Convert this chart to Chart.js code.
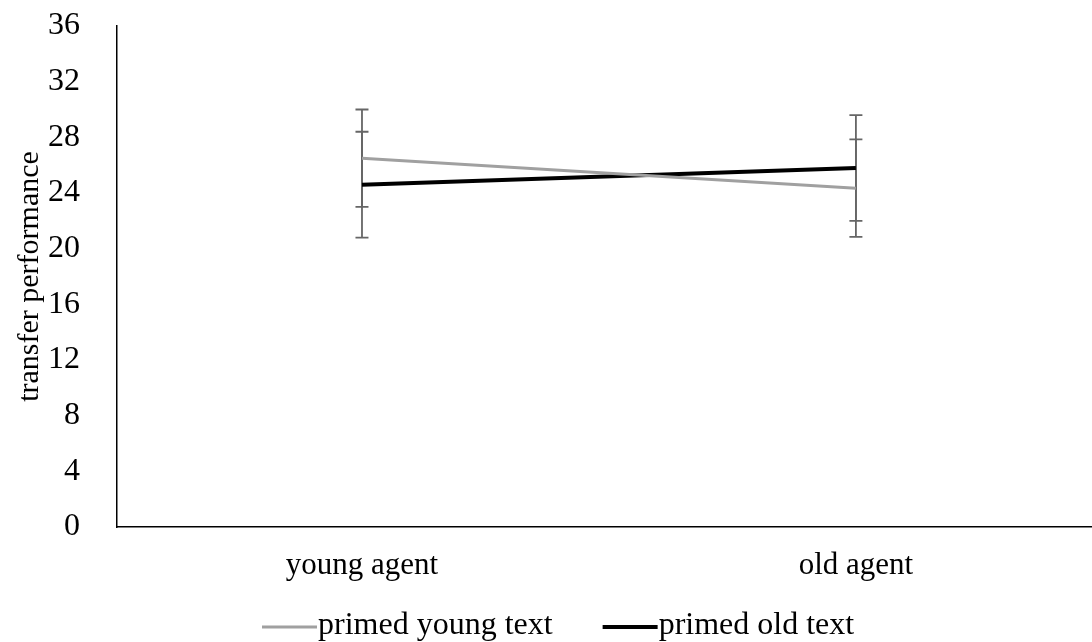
<!DOCTYPE html>
<html>
<head>
<meta charset="utf-8">
<script src="https://cdn.jsdelivr.net/npm/chart.js@4/dist/chart.umd.min.js"></script>
<style>
html,body{margin:0;padding:0;background:#fff;}
#wrap{width:1092px;height:642px;position:relative;overflow:hidden;}
</style>
</head>
<body>
<div id="wrap"><canvas id="c" width="1092" height="642"></canvas></div>
<script>
const categories = ['young agent', 'old agent'];
const primedYoungMeans = [26.5, 24.35];
const primedYoungErr = [3.5, 3.5];
const primedOldMeans = [24.6, 25.8];
const primedOldErr = [3.8, 3.8];
const seriesNames = ['primed young text', 'primed old text'];
const yTickValues = [0, 4, 8, 12, 16, 20, 24, 28, 32, 36];

const FONT = "'Liberation Serif', 'Times New Roman', serif";
const colors = ['#a0a0a0', '#000000'];
const widths = [3, 4];

const toPoints = arr => arr.map((v, i) => ({ x: i, y: v }));

const errorBars = {
  id: 'errorBars',
  beforeDatasetsDraw(chart) {
    const ctx = chart.ctx;
    const y = chart.scales.y;
    ctx.save();
    ctx.strokeStyle = '#666666';
    ctx.lineWidth = 1.8;
    chart.data.datasets.forEach((ds, di) => {
      const meta = chart.getDatasetMeta(di);
      meta.data.forEach((pt, i) => {
        const m = ds.data[i].y, e = ds.errors[i];
        const x = pt.x;
        const yt = y.getPixelForValue(m + e);
        const yb = y.getPixelForValue(m - e);
        ctx.beginPath();
        ctx.moveTo(x, yt); ctx.lineTo(x, yb);
        ctx.moveTo(x - 6.5, yt); ctx.lineTo(x + 6.5, yt);
        ctx.moveTo(x - 6.5, yb); ctx.lineTo(x + 6.5, yb);
        ctx.stroke();
      });
    });
    ctx.restore();
  }
};

const customLegend = {
  id: 'customLegend',
  afterDraw(chart) {
    const ctx = chart.ctx;
    ctx.save();
    ctx.font = '32px ' + FONT;
    ctx.textBaseline = 'middle';
    ctx.fillStyle = '#000';
    let x = 262;
    const yc = 627;
    chart.data.datasets.forEach((ds, di) => {
      ctx.strokeStyle = ds.borderColor;
      ctx.lineWidth = ds.borderWidth;
      ctx.beginPath();
      ctx.moveTo(x, yc); ctx.lineTo(x + 55, yc);
      ctx.stroke();
      ctx.fillText(ds.label, x + 56, yc - 1);
      x += 56 + ctx.measureText(ds.label).width + 50;
    });
    ctx.restore();
  }
};

new Chart(document.getElementById('c'), {
  type: 'line',
  data: {
    datasets: [
      { label: seriesNames[0], data: toPoints(primedYoungMeans), errors: primedYoungErr,
        borderColor: colors[0], backgroundColor: colors[0], borderWidth: widths[0],
        pointRadius: 0, tension: 0 },
      { label: seriesNames[1], data: toPoints(primedOldMeans), errors: primedOldErr,
        borderColor: colors[1], backgroundColor: colors[1], borderWidth: widths[1],
        pointRadius: 0, tension: 0 }
    ]
  },
  options: {
    responsive: false,
    animation: false,
    devicePixelRatio: 1,
    layout: { padding: { top: 26, left: 0, right: 0, bottom: 0 } },
    plugins: {
      legend: { display: false },
      tooltip: { enabled: false },
      title: { display: false }
    },
    scales: {
      x: {
        type: 'linear',
        min: -0.496, max: 1.478,
        afterBuildTicks(s) { s.ticks = categories.map((c, i) => ({ value: i })); },
        grid: { display: false, drawTicks: false },
        border: { display: true, color: '#000', width: 1.5 },
        ticks: { color: '#000', font: { family: FONT, size: 31 }, padding: 20, maxRotation: 0,
                 autoSkip: false, callback: v => categories[v] },
        afterFit(s) { s.height = 115; s.paddingLeft = 0; s.paddingRight = 0; }
      },
      y: {
        min: 0, max: 36,
        afterBuildTicks(s) { s.ticks = yTickValues.map(v => ({ value: v })); },
        grid: { display: false, drawTicks: false },
        border: { display: true, color: '#000', width: 1.5 },
        ticks: { color: '#000', font: { family: FONT, size: 32 }, padding: 37 },
        title: { display: true, text: 'transfer performance', color: '#000',
                 font: { family: FONT, size: 30 }, padding: { top: 12, bottom: 0 } },
        afterFit(s) { s.width = 117; s.paddingTop = 0; s.paddingBottom = 0; }
      }
    }
  },
  plugins: [errorBars, customLegend]
});
</script>
</body>
</html>
